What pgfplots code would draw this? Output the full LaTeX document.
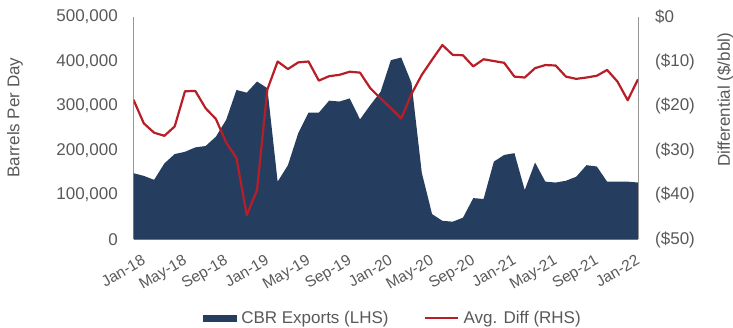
\documentclass[border=0pt]{standalone}
\usepackage{fontspec}
\setmainfont{Liberation Sans}
\usepackage{pgfplots}
\usepackage{pgfplotstable}
\pgfplotsset{compat=1.18}

\definecolor{navy}{RGB}{37,62,95}
\definecolor{diffred}{RGB}{184,30,40}
\definecolor{labelgray}{RGB}{89,89,89}
\definecolor{axisgray}{RGB}{150,150,150}

% month index, crude-by-rail exports (bbl/d), average differential ($/bbl)
\pgfplotstableread{
m  bpd     diff
0  149000  -18.6
1  143000  -23.9
2  134000  -26.0
3  171000  -26.7
4  192000  -24.6
5  197000  -16.7
6  207000  -16.6
7  210000  -20.5
8  231000  -22.9
9  269000  -28.2
10 336000  -31.7
11 330000  -44.5
12 355000  -38.9
13 340000  -16.3
14 130000  -10.0
15 167000  -11.7
16 239000  -10.2
17 285000  -10.0
18 285000  -14.3
19 312000  -13.3
20 310000  -13.0
21 317000  -12.3
22 270000  -12.5
23 302000  -16.0
24 332000  -18.3
25 403000  -20.5
26 409000  -22.8
27 352000  -17.3
28 150000  -13.0
29 57000   -9.6
30 42000   -6.3
31 40000   -8.5
32 49000   -8.6
33 93000   -11.1
34 91000   -9.5
35 175000  -9.9
36 190000  -10.3
37 194000  -13.4
38 111000  -13.6
39 173000  -11.5
40 130000  -10.8
41 128000  -10.9
42 132000  -13.4
43 141000  -13.9
44 167000  -13.6
45 164000  -13.2
46 130000  -11.9
47 130000  -14.5
48 130000  -18.7
49 128000  -14.0
}\cbrdata

\newcommand{\chartfont}{\fontsize{17pt}{20pt}\selectfont}

\begin{document}
\begin{tikzpicture}
\path[use as bounding box] (0pt,0pt) rectangle (733pt,328pt);

\pgfplotsset{
  base/.style={
    at={(133.5pt,88.5pt)}, anchor=south west,
    scale only axis, width=504.5pt, height=222.5pt,
    xmin=0, xmax=49,
    major tick length=0pt,
    axis line style={draw=axisgray, line width=0.8pt},
    tick label style={font=\chartfont, text=labelgray},
    /pgf/number format/assume math mode=true,
  },
}

% left axis: exports as a filled area
\begin{axis}[base,
  axis x line*=bottom, axis y line*=left,
  ymin=0, ymax=500000,
  ytick={0,100000,...,500000},
  scaled y ticks=false,
  yticklabel style={/pgf/number format/fixed, /pgf/number format/1000 sep={,},
    anchor=east, inner sep=0pt, xshift=-15.5pt},
  xtick={0,4,...,48},
  xticklabels={Jan-18,May-18,Sep-18,Jan-19,May-19,Sep-19,Jan-20,May-20,Sep-20,Jan-21,May-21,Sep-21,Jan-22},
  xticklabel style={font=\fontsize{15.5pt}{18pt}\selectfont, anchor=north east,
    inner sep=0pt, xshift=7.5pt, yshift=-14.5pt, rotate=30},
  every axis y label/.style={at={(axis description cs:-0.235,0.548)}, anchor=center,
    rotate=90, inner sep=0pt, font=\chartfont, text=labelgray},
  ylabel={Barrels Per Day},
]
\addplot[fill=navy, draw=none] table[x=m, y=bpd] {\cbrdata} \closedcycle;
\end{axis}

% right axis: differential line
\begin{axis}[base,
  axis x line=none, axis y line*=right,
  ymin=-50, ymax=0,
  ytick={-50,-40,...,0},
  yticklabels={(\$50),(\$40),(\$30),(\$20),(\$10),\$0},
  yticklabel style={anchor=west, inner sep=0pt, xshift=17pt},
  every axis y label/.style={at={(axis description cs:1.173,0.627)}, anchor=center,
    rotate=90, inner sep=0pt, font=\chartfont, text=labelgray},
  ylabel={Differential (\$/bbl)},
  legend columns=2,
  legend style={at={(0.512,-0.354)}, anchor=center, draw=none, fill=none,
    inner sep=0pt, font=\chartfont, text=labelgray,
    nodes={inner sep=0pt, anchor=west},
    /tikz/every odd column/.append style={column sep=5pt},
    /tikz/every even column/.append style={column sep=35pt}},
]
\addlegendimage{legend image code/.code={\fill[navy] (0pt,-3.3pt) rectangle (33pt,3.3pt);}}
\addlegendentry{CBR Exports (LHS)}
\addplot[diffred, line width=2.2pt, line join=round,
  legend image code/.code={\draw[diffred, line width=2pt] (0pt,0pt) -- (33pt,0pt);}]
  table[x=m, y=diff] {\cbrdata};
\addlegendentry{Avg. Diff (RHS)}
\end{axis}
\end{tikzpicture}
\end{document}
